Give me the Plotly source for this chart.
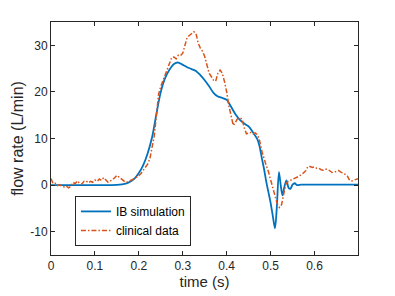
import plotly.graph_objects as go

# IB simulation (blue)
t_sim = [0, 0.05, 0.1, 0.15, 0.17, 0.18, 0.19, 0.2, 0.21, 0.22, 0.23, 0.24, 0.25, 0.26, 0.27, 0.28,
         0.29, 0.30, 0.31, 0.32, 0.33, 0.34, 0.35, 0.36, 0.37, 0.38, 0.39, 0.40, 0.41, 0.42, 0.43, 0.44,
         0.45, 0.46, 0.47, 0.475, 0.48, 0.485, 0.49, 0.495, 0.5, 0.505, 0.51, 0.514, 0.519, 0.523, 0.527,
         0.531, 0.536, 0.541, 0.545, 0.55, 0.555, 0.56, 0.57, 0.6, 0.65, 0.7]
q_sim = [0, 0, 0, 0.05, 0.3, 0.7, 1.4, 2.6, 4.3, 6.8, 10.2, 15.3, 20.0, 23.0, 24.8, 26.0,
         26.3, 25.8, 25.3, 24.9, 24.5, 23.6, 22.5, 21.2, 19.8, 19.0, 18.7, 18.3, 16.8, 15.2, 14.0, 13.2,
         12.6, 11.3, 9.8, 8.3, 5.8, 3.5, 0.8, -1.5, -3.8, -6.6, -9.3, -5.0, 2.8, 0.0, -2.2,
         -0.5, 1.0, -0.6, -0.8, 0.1, 0.4, 0.0, 0.1, 0.1, 0.1, 0.1]

# Clinical data (orange, dash-dot)
t_clin = [round(0.005 * i, 3) for i in range(141)]
q_clin = [1.4, 0.3, 0.4, -0.1, 0.1, -0.3, -0.4, -0.2, -0.6, -0.3,
          0.6, 0.3, 0.9, 0.4, 0.2, 0.8, 0.9, 0.5, 0.8, 0.6,
          1.1, 0.8, 1.3, 1.0, 1.6, 1.2, 0.6, 0.9, 1.1, 1.6,
          2.1, 1.7, 1.3, 0.9, 0.6, 0.7, 0.9, 1.2, 1.4, 1.7,
          2.0, 2.5, 3.1, 3.7, 4.5, 5.6, 7.7, 10.5, 15.0, 19.5,
          21.2, 22.5, 23.6, 25.0, 26.5, 27.4, 27.5, 27.1, 27.9, 27.8,
          28.3, 30.3, 31.7, 32.1, 32.5, 32.9, 32.6, 30.5, 29.4, 28.7,
          27.6, 25.5, 24.0, 23.3, 22.5, 22.3, 24.0, 24.7, 24.0, 22.2,
          20.0, 17.0, 14.7, 12.8, 13.5, 14.3, 14.4, 14.2, 12.3, 11.0,
          11.2, 11.3, 11.0, 11.2, 10.8, 9.5, 7.3, 5.5, 4.2, 2.9,
          1.3, -0.5, -2.2, -4.0, -4.8, -4.2, -1.8, 0.3, 0.8, 1.0,
          1.3, 1.4, 1.6, 1.9, 2.3, 2.6, 3.1, 4.0, 4.0, 3.8,
          3.9, 3.6, 3.6, 3.3, 3.2, 3.4, 3.4, 3.0, 2.7, 2.8,
          2.9, 3.1, 2.8, 2.6, 2.3, 1.9, 1.0, 0.9, 1.1, 1.3,
          1.4]

x_ticks = [0, 0.1, 0.2, 0.3, 0.4, 0.5, 0.6]
x_tick_labels = ["0", "0.1", "0.2", "0.3", "0.4", "0.5", "0.6"]
y_ticks = [-10, 0, 10, 20, 30]
y_tick_labels = ["-10", "0", "10", "20", "30"]

FONT = "Liberation Sans, Arial, Helvetica, sans-serif"

fig = go.Figure()
fig.add_trace(go.Scatter(x=t_sim, y=q_sim, mode="lines", name="IB simulation",
                         line=dict(color="#0072BD", width=1.8, shape="spline", smoothing=0.8)))
fig.add_trace(go.Scatter(x=t_clin, y=q_clin, mode="lines", name="clinical data",
                         line=dict(color="#D95319", width=1.5, dash="5px,2px,1.5px,2px")))

axis_common = dict(showline=True, linecolor="#262626", linewidth=1, mirror="ticks",
                   ticks="inside", ticklen=4, tickcolor="#262626", showgrid=False, zeroline=False,
                   tickfont=dict(family=FONT, size=12, color="#262626"))

fig.update_layout(
    width=395, height=296,
    margin=dict(l=51, r=37, t=22, b=41, autoexpand=False),
    paper_bgcolor="white", plot_bgcolor="white",
    font=dict(family=FONT, color="#262626"),
    xaxis=dict(range=[0, 0.699], tickvals=x_ticks, ticktext=x_tick_labels, automargin=False,
               title=dict(text="time (s)", font=dict(size=15), standoff=2), **axis_common),
    yaxis=dict(range=[-15, 35], tickvals=y_ticks, ticktext=y_tick_labels, automargin=False,
               title=dict(text="flow rate (L/min)", font=dict(size=16), standoff=2), **axis_common),
    legend=dict(x=0.078, y=0.039, xanchor="left", yanchor="bottom",
                bordercolor="#262626", borderwidth=1, bgcolor="white",
                font=dict(size=12, color="#000000"), itemwidth=30, tracegroupgap=0),
    showlegend=True,
)

fig.write_html("out.html", config={"displayModeBar": False},
               post_script="document.body.style.margin='0px';")
